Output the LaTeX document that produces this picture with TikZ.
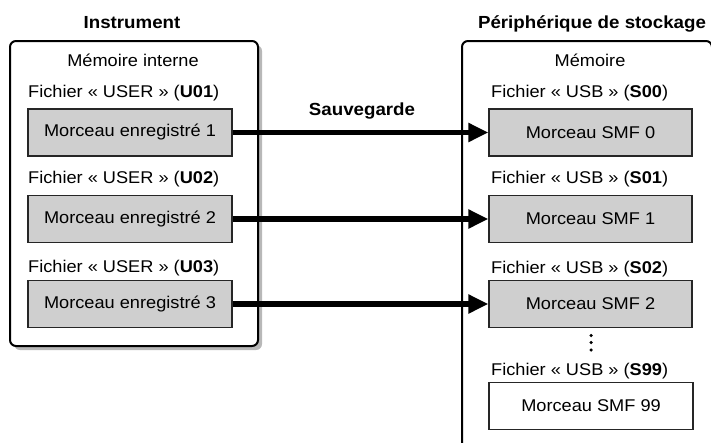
\documentclass[tikz,border=0pt]{standalone}
\usepackage{fontspec}
\setmainfont{Liberation Sans}[FakeStretch=1.07]
\usetikzlibrary{arrows.meta,shadows}
\begin{document}
\begin{tikzpicture}[x=1pt,y=-1pt,
  container/.style={draw, line width=2pt, rounded corners=6pt, fill=white, inner sep=0},
  song/.style={draw=black!85, line width=1.2pt, fill=black!19, minimum width=204pt, minimum height=47pt, inner sep=0, font=\fontsize{17}{20}\selectfont},
  lbl/.style={anchor=west, inner sep=0, font=\fontsize{17}{20}\selectfont},
  head/.style={anchor=base, inner sep=0, font=\fontsize{17}{20}\selectfont},
  ttl/.style={anchor=base, inner sep=0, font=\fontsize{17.5}{20}\selectfont\bfseries},
  arr/.style={line width=5.5pt, -{Triangle[length=20pt,width=18pt]}},
  vdot/.style={circle, fill=black, inner sep=0, minimum size=3.5pt}]
\useasboundingbox (0,0) rectangle (711,442);
% containers
\node (inst) [container, drop shadow={shadow xshift=4pt, shadow yshift=-4pt, fill=black!28, opacity=1}, minimum width=248pt, minimum height=305pt] at (134,193.5) {};
\node (dev) [container, minimum width=250pt, minimum height=419pt] at (587,250.5) {};
% titles
\node (t1) [ttl] at (132,28) {Instrument};
\node (t2) [ttl] at (592,28) {Périphérique de stockage};
\node (h1) [head] at (133,66) {Mémoire interne};
\node (h2) [head] at (590,66) {Mémoire};
% left labels
\node (lu1) [lbl] at (28,93) {Fichier « USER » (\textbf{U01})};
\node (lu2) [lbl] at (28,179.5) {Fichier « USER » (\textbf{U02})};
\node (lu3) [lbl] at (28,268) {Fichier « USER » (\textbf{U03})};
% right labels
\node (ls0) [lbl] at (491,93) {Fichier « USB » (\textbf{S00})};
\node (ls1) [lbl] at (491,179.5) {Fichier « USB » (\textbf{S01})};
\node (ls2) [lbl] at (491,269) {Fichier « USB » (\textbf{S02})};
\node (ls9) [lbl] at (491,371) {Fichier « USB » (\textbf{S99})};
% song boxes
\node (u1) [song] at (130,132.5) {Morceau enregistré 1};
\node (u2) [song] at (130,219) {Morceau enregistré 2};
\node (u3) [song] at (130,304) {Morceau enregistré 3};
\node (s0) [song, minimum width=203pt] at (590.5,132.5) {Morceau SMF 0};
\node (s1) [song, minimum width=203pt] at (590.5,219) {Morceau SMF 1};
\node (s2) [song, minimum width=203pt] at (590.5,304) {Morceau SMF 2};
\node (s9) [song, minimum width=204pt, fill=white] at (591,406) {Morceau SMF 99};
% dots
\node (d1) [vdot] at (591,335.5) {};
\node (d2) [vdot] at (591,342.5) {};
\node (d3) [vdot] at (591,350) {};
% arrows
\draw[arr] (u1.east) -- (s0.west);
\draw[arr] (u2.east) -- (s1.west);
\draw[arr] (u3.east) -- (s2.west);
\node (sv) [ttl] at (362,115) {Sauvegarde};
\end{tikzpicture}
\end{document}
